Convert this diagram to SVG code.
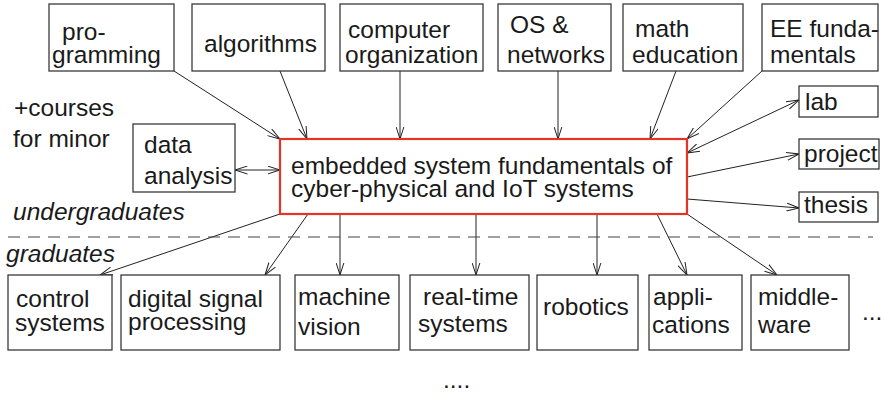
<svg xmlns="http://www.w3.org/2000/svg" width="885" height="395" viewBox="0 0 885 395">
<defs>
<marker id="ah" viewBox="0 0 13 9" refX="12.5" refY="4.5" markerWidth="13" markerHeight="9" markerUnits="userSpaceOnUse" orient="auto-start-reverse">
<path d="M0,0.5 L12.5,4.5 L0,8.5" fill="none" stroke="#222" stroke-width="1"/>
</marker>
</defs>
<style>
text{font-family:"Liberation Sans",Arial,Helvetica,sans-serif;font-size:24.5px;fill:#1a1a1a}
.it{font-style:italic}
.box{fill:#fff;stroke:#3a3a3a;stroke-width:1.3}
.main{fill:#fff;stroke:#e53427;stroke-width:2.2}
.c{fill:none;stroke:#222;stroke-width:1;marker-end:url(#ah)}
.b{fill:none;stroke:#222;stroke-width:1;marker-end:url(#ah);marker-start:url(#ah)}
.dash{stroke:#444;stroke-width:1.2;stroke-dasharray:12 8}
</style>
<rect width="885" height="395" fill="#fff"/>

<g id="connectors">
<line class="c" x1="174" y1="71" x2="280" y2="139"/>
<line class="c" x1="280" y1="71" x2="307" y2="139"/>
<line class="c" x1="400" y1="71" x2="400" y2="139"/>
<line class="c" x1="558" y1="71" x2="558" y2="139"/>
<line class="c" x1="676" y1="71" x2="650" y2="139"/>
<line class="c" x1="762" y1="71" x2="687" y2="139"/>
<line class="b" x1="687" y1="153" x2="799" y2="100"/>
<line class="c" x1="687" y1="177" x2="799" y2="154"/>
<line class="c" x1="687" y1="199" x2="799" y2="208"/>
<line class="b" x1="235" y1="170" x2="280" y2="170"/>
<line class="c" x1="280" y1="214" x2="100" y2="275"/>
<line class="c" x1="308" y1="214" x2="265" y2="275"/>
<line class="c" x1="340" y1="214" x2="340" y2="275"/>
<line class="c" x1="476" y1="214" x2="476" y2="275"/>
<line class="c" x1="597" y1="214" x2="597" y2="275"/>
<line class="c" x1="657" y1="214" x2="687" y2="275"/>
<line class="c" x1="687" y1="214" x2="777" y2="275"/>
<line class="dash" x1="8" y1="237" x2="873" y2="237"/>
</g>

<g id="programming"><rect class="box" x="49" y="4" width="125" height="67"/><text x="62" y="40">pro-</text><text x="52" y="63">gramming</text></g>
<g id="algorithms"><rect class="box" x="192" y="4" width="133" height="67"/><text x="204" y="52">algorithms</text></g>
<g id="computer-organization"><rect class="box" x="340" y="4" width="143" height="67"/><text x="348" y="38">computer</text><text x="345" y="63">organization</text></g>
<g id="os-networks"><rect class="box" x="498" y="4" width="113" height="67"/><text x="510" y="33">OS &amp;</text><text x="507" y="63">networks</text></g>
<g id="math-education"><rect class="box" x="623" y="4" width="120" height="67"/><text x="635" y="37">math</text><text x="632" y="63">education</text></g>
<g id="ee-fundamentals"><rect class="box" x="762" y="4" width="116" height="67"/><text x="770" y="37">EE funda-</text><text x="770" y="63">mentals</text></g>

<g id="lab"><rect class="box" x="799" y="86" width="79" height="31"/><text x="805" y="110">lab</text></g>
<g id="project"><rect class="box" x="799" y="139" width="80" height="30"/><text x="804" y="162">project</text></g>
<g id="thesis"><rect class="box" x="799" y="192" width="79" height="30"/><text x="804" y="213">thesis</text></g>

<g id="data-analysis"><rect class="box" x="133" y="124" width="102" height="68"/><text x="144" y="153">data</text><text x="144" y="184">analysis</text></g>

<g id="main"><rect class="main" x="280" y="139" width="407" height="75"/><text x="291" y="174">embedded system fundamentals of</text><text x="291" y="197">cyber-physical and IoT systems</text></g>

<g id="labels">
<text x="14" y="116">+courses</text>
<text x="13" y="147">for minor</text>
<text class="it" x="13" y="220">undergraduates</text>
<text class="it" x="6" y="262">graduates</text>
<text x="862" y="320">...</text>
<text x="443" y="388">....</text>
</g>

<g id="control-systems"><rect class="box" x="8" y="275" width="104" height="75"/><text x="16" y="307">control</text><text x="15" y="331">systems</text></g>
<g id="dsp"><rect class="box" x="121" y="275" width="159" height="75"/><text x="128" y="307">digital signal</text><text x="128" y="330">processing</text></g>
<g id="machine-vision"><rect class="box" x="295" y="275" width="104" height="75"/><text x="298" y="305">machine</text><text x="298" y="335">vision</text></g>
<g id="real-time-systems"><rect class="box" x="410" y="275" width="119" height="75"/><text x="423" y="305">real-time</text><text x="418" y="332">systems</text></g>
<g id="robotics"><rect class="box" x="537" y="275" width="101" height="75"/><text x="543" y="315">robotics</text></g>
<g id="applications"><rect class="box" x="649" y="275" width="93" height="75"/><text x="653" y="305">appli-</text><text x="652" y="333">cations</text></g>
<g id="middleware"><rect class="box" x="751" y="275" width="98" height="75"/><text x="758" y="305">middle-</text><text x="758" y="333">ware</text></g>
</svg>
